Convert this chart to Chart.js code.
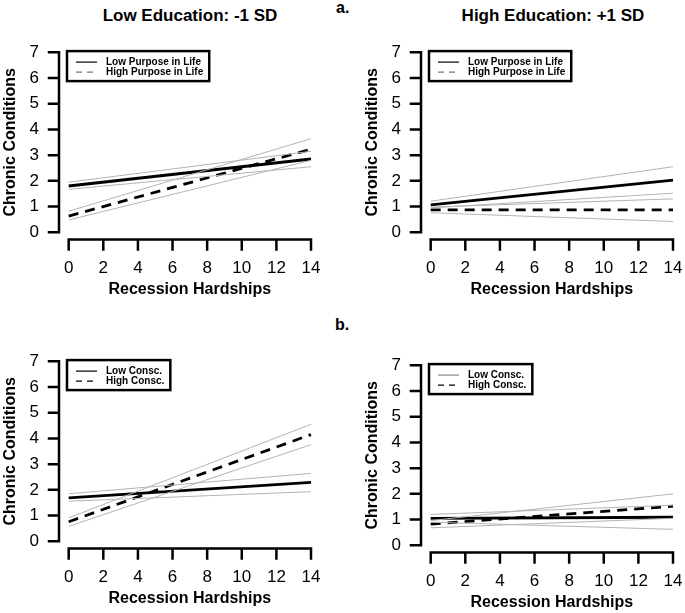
<!DOCTYPE html>
<html>
<head>
<meta charset="utf-8">
<script src="https://cdn.jsdelivr.net/npm/chart.js@4.4.0/dist/chart.umd.min.js"></script>
<style>
  html, body { margin: 0; padding: 0; background: #fff; }
  body { width: 685px; height: 613px; position: relative; overflow: hidden;
         font-family: "Liberation Sans", Arial, Helvetica, sans-serif; color: #000; }
  canvas { position: absolute; }
  .head { position: absolute; font-weight: bold; font-size: 17px; white-space: nowrap;
          transform: translate(-50%, -50%); }
  .tag { position: absolute; font-weight: bold; font-size: 16px; transform: translateY(-50%); }
</style>
</head>
<body>
<div class="head" style="left:190px; top:16px;">Low Education: -1 SD</div>
<div class="head" style="left:553px; top:16px;">High Education: +1 SD</div>
<div class="tag" style="left:336px; top:8px;">a.</div>
<div class="tag" style="left:335px; top:325px;">b.</div>

<canvas id="panelA1" width="340" height="300" style="left:0px; top:0px;"></canvas>
<canvas id="panelA2" width="323" height="300" style="left:362px; top:0px;"></canvas>
<canvas id="panelB1" width="340" height="300" style="left:0px; top:308.7px;"></canvas>
<canvas id="panelB2" width="323" height="300" style="left:362px; top:313.4px;"></canvas>

<script>
// ---- data ----
const hardshipTicks = [0, 2, 4, 6, 8, 10, 12, 14];
const conditionTicks = [0, 1, 2, 3, 4, 5, 6, 7];
const hardshipEnds = [0, 14];   // predicted lines run from 0 to 14 hardships

// a. purpose in life, low education (-1 SD)
const lowPurposeLowEd = [1.80, 2.85];
const lowPurposeLowEdUpper = [1.95, 3.15];
const lowPurposeLowEdLower = [1.67, 2.55];
const highPurposeLowEd = [0.63, 3.23];
const highPurposeLowEdUpper = [0.82, 3.64];
const highPurposeLowEdLower = [0.48, 2.80];

// a. purpose in life, high education (+1 SD)
const lowPurposeHighEd = [1.07, 2.03];
const lowPurposeHighEdUpper = [1.21, 2.55];
const lowPurposeHighEdLower = [0.95, 1.52];
const highPurposeHighEd = [0.87, 0.87];
const highPurposeHighEdUpper = [0.98, 1.30];
const highPurposeHighEdLower = [0.76, 0.42];

// b. conscientiousness, low education (-1 SD)
const lowConscLowEd = [1.69, 2.29];
const lowConscLowEdUpper = [1.85, 2.64];
const lowConscLowEdLower = [1.56, 1.93];
const highConscLowEd = [0.76, 4.15];
const highConscLowEdUpper = [0.91, 4.55];
const highConscLowEdLower = [0.58, 3.76];

// b. conscientiousness, high education (+1 SD)
const lowConscHighEd = [1.05, 1.09];
const lowConscHighEdUpper = [1.20, 1.56];
const lowConscHighEdLower = [0.90, 0.62];
const highConscHighEd = [0.82, 1.52];
const highConscHighEdUpper = [0.96, 2.00];
const highConscHighEdLower = [0.68, 1.05];

// ---- styling ----
const FONT = '"Liberation Sans", Arial, Helvetica, sans-serif';
const CI_GRAY = '#b4b4b4';
const DASH = [10, 7];
const TICK = 10;

function lineSet(label, values, color, width, dash) {
    return {
        label: label,
        data: hardshipEnds.map((h, i) => ({ x: h, y: values[i] })),
        borderColor: color,
        borderWidth: width,
        borderDash: dash || [],
        pointRadius: 0,
        fill: false,
        tension: 0
    };
}

// R-style axes: lines only span the tick range, ticks point outward
const rAxes = {
    id: 'rAxes',
    afterDraw(chart) {
        const { ctx, chartArea, scales: { x, y } } = chart;
        ctx.save();
        ctx.strokeStyle = '#000';
        ctx.lineWidth = 2.5;
        ctx.lineCap = 'square';
        ctx.beginPath();
        const y0 = y.getPixelForValue(conditionTicks[0]);
        const y1 = y.getPixelForValue(conditionTicks[conditionTicks.length - 1]);
        ctx.moveTo(chartArea.left, y0);
        ctx.lineTo(chartArea.left, y1);
        conditionTicks.forEach(v => {
            const py = y.getPixelForValue(v);
            ctx.moveTo(chartArea.left, py);
            ctx.lineTo(chartArea.left - TICK, py);
        });
        const x0 = x.getPixelForValue(hardshipTicks[0]);
        const x1 = x.getPixelForValue(hardshipTicks[hardshipTicks.length - 1]);
        ctx.moveTo(x0, chartArea.bottom);
        ctx.lineTo(x1, chartArea.bottom);
        hardshipTicks.forEach(v => {
            const px = x.getPixelForValue(v);
            ctx.moveTo(px, chartArea.bottom);
            ctx.lineTo(px, chartArea.bottom + TICK);
        });
        ctx.stroke();
        ctx.restore();
    }
};

// boxed legend in the top-left corner of the plot
const boxLegend = {
    id: 'boxLegend',
    afterDraw(chart, args, opts) {
        const items = opts.items || [];
        const ctx = chart.ctx;
        const left = chart.chartArea.left + 8;
        const top = chart.chartArea.top + 6;
        ctx.save();
        ctx.font = 'bold 10px ' + FONT;
        const textW = Math.max(...items.map(it => ctx.measureText(it.text).width));
        const w = 39 + textW + 6;
        const h = 30;
        items.forEach((it, i) => {
            const ry = top + 11 + i * 10;
            ctx.beginPath();
            ctx.strokeStyle = it.color;
            ctx.lineWidth = 1.2;
            ctx.setLineDash(it.dash || []);
            ctx.moveTo(left + 9, ry);
            ctx.lineTo(left + 30, ry);
            ctx.stroke();
            ctx.setLineDash([]);
            ctx.fillStyle = '#000';
            ctx.textBaseline = 'middle';
            ctx.fillText(it.text, left + 39, ry);
        });
        ctx.strokeStyle = '#000';
        ctx.lineWidth = 2.5;
        ctx.strokeRect(left, top, w, h);
        ctx.restore();
    }
};

function makePanel(id, rightPad, s, legendItems) {
    const datasets = [
        lineSet('ci', s.lowUpper, CI_GRAY, 1),
        lineSet('ci', s.lowLower, CI_GRAY, 1),
        lineSet('ci', s.highUpper, CI_GRAY, 1),
        lineSet('ci', s.highLower, CI_GRAY, 1),
        lineSet(s.highLabel, s.high, '#000', 2.8, DASH),
        lineSet(s.lowLabel, s.low, '#000', 2.8)
    ];
    const zeroPad = sc => { sc.paddingTop = 0; sc.paddingBottom = 0; sc.paddingLeft = 0; sc.paddingRight = 0; };
    return new Chart(document.getElementById(id), {
        type: 'line',
        data: { datasets: datasets },
        options: {
            responsive: false,
            animation: false,
            events: [],
            layout: { padding: { left: 0, top: 45.1, right: rightPad, bottom: 0 } },
            plugins: {
                legend: { display: false },
                tooltip: { enabled: false },
                boxLegend: { items: legendItems }
            },
            scales: {
                x: {
                    type: 'linear',
                    min: -0.56,
                    max: 14.56,
                    afterBuildTicks: sc => { sc.ticks = hardshipTicks.map(v => ({ value: v })); },
                    afterFit: sc => { sc.height = 60.5; zeroPad(sc); },
                    grid: { display: false, drawTicks: false },
                    border: { display: false },
                    ticks: { color: '#000', font: { family: FONT, size: 17 }, padding: 19,
                             maxRotation: 0, autoSkip: false },
                    title: { display: true, text: 'Recession Hardships', color: '#000',
                             font: { family: FONT, size: 16, weight: 'bold' },
                             padding: { top: 0, bottom: 0.5 } }
                },
                y: {
                    min: -0.28,
                    max: 7.28,
                    afterBuildTicks: sc => { sc.ticks = conditionTicks.map(v => ({ value: v })); },
                    afterFit: sc => { sc.width = 59; zeroPad(sc); },
                    grid: { display: false, drawTicks: false },
                    border: { display: false },
                    ticks: { color: '#000', font: { family: FONT, size: 17 }, padding: 20 },
                    title: { display: true, text: 'Chronic Conditions', color: '#000',
                             font: { family: FONT, size: 16, weight: 'bold' },
                             padding: { top: 0.5, bottom: 0 } }
                }
            }
        },
        plugins: [rAxes, boxLegend]
    });
}

makePanel('panelA1', 19.3, {
    lowLabel: 'Low Purpose in Life', low: lowPurposeLowEd,
    lowUpper: lowPurposeLowEdUpper, lowLower: lowPurposeLowEdLower,
    highLabel: 'High Purpose in Life', high: highPurposeLowEd,
    highUpper: highPurposeLowEdUpper, highLower: highPurposeLowEdLower
}, [
    { text: 'Low Purpose in Life', color: '#000' },
    { text: 'High Purpose in Life', color: '#777', dash: [6, 5] }
]);

makePanel('panelA2', 2.3, {
    lowLabel: 'Low Purpose in Life', low: lowPurposeHighEd,
    lowUpper: lowPurposeHighEdUpper, lowLower: lowPurposeHighEdLower,
    highLabel: 'High Purpose in Life', high: highPurposeHighEd,
    highUpper: highPurposeHighEdUpper, highLower: highPurposeHighEdLower
}, [
    { text: 'Low Purpose in Life', color: '#000' },
    { text: 'High Purpose in Life', color: '#777', dash: [6, 5] }
]);

makePanel('panelB1', 19.3, {
    lowLabel: 'Low Consc.', low: lowConscLowEd,
    lowUpper: lowConscLowEdUpper, lowLower: lowConscLowEdLower,
    highLabel: 'High Consc.', high: highConscLowEd,
    highUpper: highConscLowEdUpper, highLower: highConscLowEdLower
}, [
    { text: 'Low Consc.', color: '#000' },
    { text: 'High Consc.', color: '#000', dash: [6, 5] }
]);

makePanel('panelB2', 2.3, {
    lowLabel: 'Low Consc.', low: lowConscHighEd,
    lowUpper: lowConscHighEdUpper, lowLower: lowConscHighEdLower,
    highLabel: 'High Consc.', high: highConscHighEd,
    highUpper: highConscHighEdUpper, highLower: highConscHighEdLower
}, [
    { text: 'Low Consc.', color: '#888' },
    { text: 'High Consc.', color: '#000', dash: [6, 5] }
]);
</script>
</body>
</html>
